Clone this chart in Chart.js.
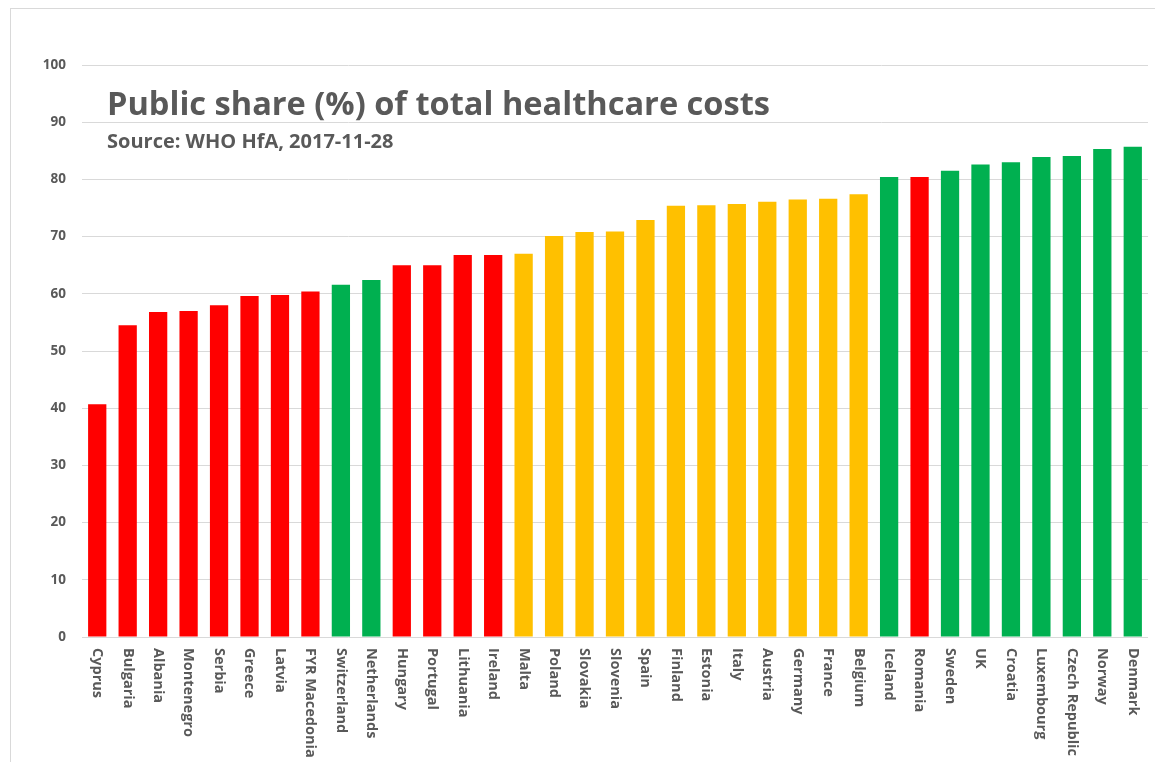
<!DOCTYPE html>
<html>
<head>
<meta charset="utf-8">
<title>Public share of total healthcare costs</title>
<script src="https://cdn.jsdelivr.net/npm/chart.js@4/dist/chart.umd.min.js"></script>
<style>
  html, body { margin: 0; padding: 0; background: #ffffff; }
  #wrap { width: 1155px; height: 762px; }
</style>
</head>
<body>
<div id="wrap"><canvas id="healthChart" width="1155" height="762"></canvas></div>
<script>
// Data
const countries = ['Cyprus', 'Bulgaria', 'Albania', 'Montenegro', 'Serbia', 'Greece', 'Latvia', 'FYR Macedonia',
    'Switzerland', 'Netherlands', 'Hungary', 'Portugal', 'Lithuania', 'Ireland', 'Malta', 'Poland', 'Slovakia',
    'Slovenia', 'Spain', 'Finland', 'Estonia', 'Italy', 'Austria', 'Germany', 'France', 'Belgium', 'Iceland',
    'Romania', 'Sweden', 'UK', 'Croatia', 'Luxembourg', 'Czech Republic', 'Norway', 'Denmark'];
const publicShare = [40.7, 54.5, 56.8, 57.0, 58.0, 59.6, 59.8, 60.4, 61.6, 62.4, 65.0, 65.0, 66.8, 66.8, 67.0,
    70.1, 70.8, 70.9, 72.9, 75.4, 75.5, 75.7, 76.1, 76.5, 76.6, 77.4, 80.4, 80.4, 81.5, 82.6, 83.0, 83.9, 84.1,
    85.3, 85.7];
// colour group of each bar
const groups = ['red', 'red', 'red', 'red', 'red', 'red', 'red', 'red', 'green', 'green', 'red', 'red', 'red', 'red',
    'amber', 'amber', 'amber', 'amber', 'amber', 'amber', 'amber', 'amber', 'amber', 'amber', 'amber', 'amber',
    'green', 'red', 'green', 'green', 'green', 'green', 'green', 'green', 'green'];
const yTicks = [0, 10, 20, 30, 40, 50, 60, 70, 80, 90, 100];
const chartTitle = 'Public share (%) of total healthcare costs';
const chartSource = 'Source: WHO HfA, 2017-11-28';

const groupColors = { red: '#ff0000', green: '#00b050', amber: '#ffc000' };
const textColor = '#595959';
const fontFamily = '"Open Sans", "Liberation Sans", sans-serif';

// Draws a string squeezed horizontally to a given width (Calibri-like look)
function fitText(ctx, text, x, y, width) {
    const w = ctx.measureText(text).width;
    ctx.save();
    ctx.translate(x, y);
    ctx.scale(Math.min(1, width / w), 1);
    ctx.fillText(text, 0, 0);
    ctx.restore();
}

// Frame around the whole chart
const framePlugin = {
    id: 'frame',
    beforeDraw(chart) {
        const ctx = chart.ctx;
        ctx.save();
        ctx.strokeStyle = '#d9d9d9';
        ctx.lineWidth = 1;
        ctx.strokeRect(10.5, 8.5, 1170, 770);
        ctx.restore();
    }
};

// Title and source drawn inside the plot area
const titlePlugin = {
    id: 'insideTitle',
    afterDraw(chart) {
        const ctx = chart.ctx;
        const x = chart.chartArea.left + 25;
        ctx.save();
        ctx.fillStyle = textColor;
        ctx.textAlign = 'left';
        ctx.textBaseline = 'alphabetic';
        ctx.font = 'bold 33px ' + fontFamily;
        fitText(ctx, chartTitle, x, 115, 663);
        ctx.font = 'bold 20px ' + fontFamily;
        fitText(ctx, chartSource, x, 148, 313);
        ctx.restore();
    }
};

// Category labels turned 90 degrees clockwise (reading top to bottom)
const xLabelPlugin = {
    id: 'verticalLabels',
    afterDraw(chart) {
        const ctx = chart.ctx;
        const xScale = chart.scales.x;
        const y0 = chart.chartArea.bottom + 11;
        ctx.save();
        ctx.fillStyle = textColor;
        ctx.font = 'bold 14.5px ' + fontFamily;
        ctx.textAlign = 'left';
        ctx.textBaseline = 'middle';
        chart.data.labels.forEach((label, i) => {
            const x = xScale.getPixelForValue(i);
            ctx.save();
            ctx.translate(x, y0);
            ctx.rotate(Math.PI / 2);
            ctx.fillText(label, 0, 0);
            ctx.restore();
        });
        ctx.restore();
    }
};

const ctx = document.getElementById('healthChart');
new Chart(ctx, {
    type: 'bar',
    data: {
        labels: countries,
        datasets: [{
            label: 'Public share (%)',
            data: publicShare,
            backgroundColor: groups.map(g => groupColors[g]),
            borderWidth: 0,
            barPercentage: 0.6,
            categoryPercentage: 1.0
        }]
    },
    options: {
        responsive: false,
        animation: false,
        layout: {
            padding: { top: 65, right: 7, bottom: 117, left: 0 }
        },
        scales: {
            x: {
                ticks: { display: false },
                grid: { display: false },
                border: { display: false }
            },
            y: {
                min: 0,
                max: 100,
                afterBuildTicks: scale => {
                    scale.ticks = yTicks.map(v => ({ value: v }));
                },
                afterFit: scale => {
                    scale.width = 82;
                },
                ticks: {
                    color: textColor,
                    padding: 16,
                    font: { family: fontFamily, size: 13.5, weight: 'bold' }
                },
                grid: {
                    color: '#d9d9d9',
                    drawTicks: false
                },
                border: { display: false }
            }
        },
        plugins: {
            legend: { display: false },
            tooltip: { enabled: false },
            title: { display: false }
        }
    },
    plugins: [framePlugin, titlePlugin, xLabelPlugin]
});
</script>
</body>
</html>
